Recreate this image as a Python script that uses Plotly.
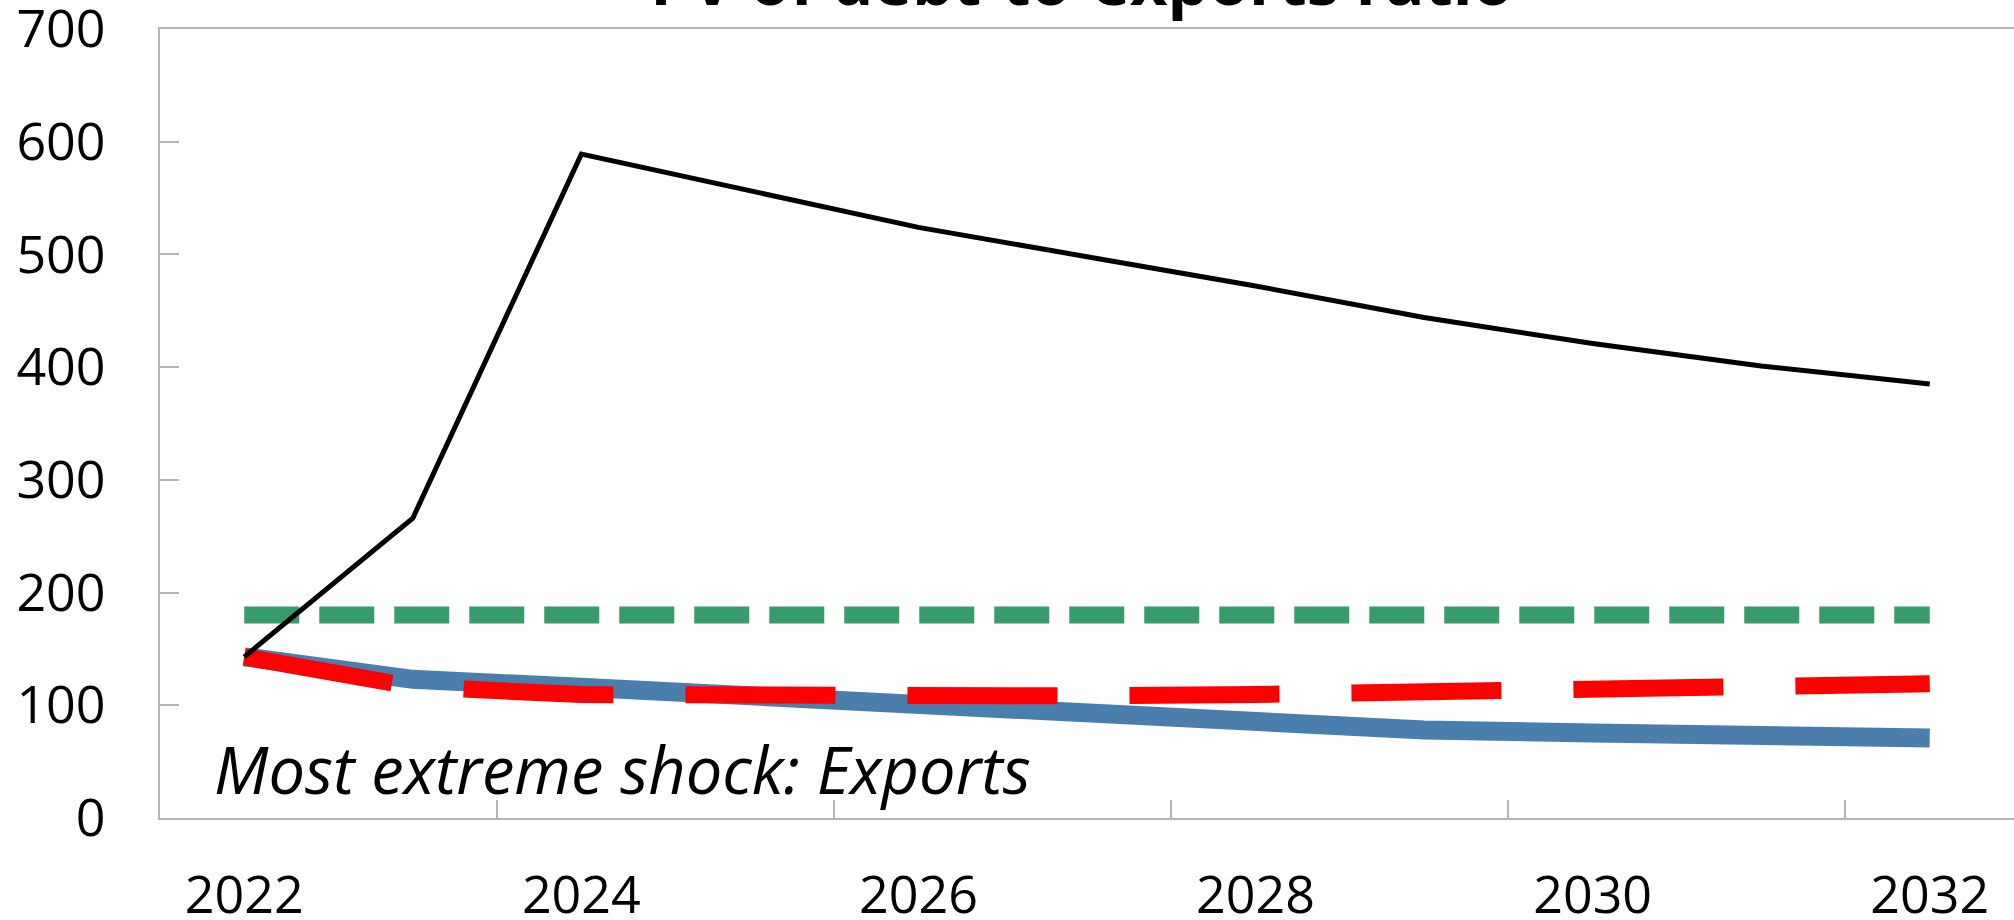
import plotly.graph_objects as go

# ---- data ----
years = [2022, 2023, 2024, 2025, 2026, 2027, 2028, 2029, 2030, 2031, 2032]
baseline = [143, 123, 116, 108, 100, 93.5, 86, 78, 75.5, 73, 71]
historical_scenario = [143, 116.5, 109.5, 108, 107, 108.3, 109.6, 111, 113.1, 116.7, 119.1]
most_extreme_shock = [143, 266, 589, 556, 524, 498, 472, 444, 421, 401, 385]
threshold = [180, 180, 180, 180, 180, 180, 180, 180, 180, 180, 180]

x_tick_years = [2022, 2024, 2026, 2028, 2030, 2032]
x_tick_labels = ["2022", "2024", "2026", "2028", "2030", "2032"]
x_boundaries = [2023.5, 2025.5, 2027.5, 2029.5, 2031.5]
y_ticks = [0, 100, 200, 300, 400, 500, 600, 700]

title_text = "PV of debt-to-exports ratio"
note_text = "Most extreme shock: Exports"

AXIS = "#b4b4b8"
FONT = "Open Sans"

fig = go.Figure()
fig.add_trace(go.Scatter(x=years, y=threshold, mode="lines", name="Threshold",
                         line=dict(color="#379c6b", width=17, dash="55px,20px")))
fig.add_trace(go.Scatter(x=years, y=baseline, mode="lines", name="Baseline",
                         line=dict(color="#4a7fad", width=19)))
fig.add_trace(go.Scatter(x=years, y=historical_scenario, mode="lines", name="Historical scenario",
                         line=dict(color="#ff0000", width=17, dash="150px,72px")))
fig.add_trace(go.Scatter(x=years, y=most_extreme_shock, mode="lines", name="Most extreme shock",
                         line=dict(color="#000000", width=5)))

fig.update_layout(
    width=2014, height=920,
    margin=dict(l=160, r=0, t=29, b=102, pad=0, autoexpand=False),
    paper_bgcolor="white", plot_bgcolor="white",
    showlegend=False,
    font=dict(family=FONT, size=52, color="black"),
    title=dict(text="<b>" + title_text + "</b>", x=0.537, xanchor="center",
               y=1 - 5 / 920, yref="container", yanchor="bottom", automargin=False,
               font=dict(family=FONT, size=65, color="black")),
    xaxis=dict(range=[2021.5, 2032.5], tickmode="array", tickvals=x_tick_years,
               ticktext=x_tick_labels, ticks="", showline=True, linecolor=AXIS,
               linewidth=2, mirror=True, showgrid=False, zeroline=False,
               automargin=False, ticklabeloverflow="allow",
               ticklabelstandoff=31,
               minor=dict(tickmode="array", tickvals=x_boundaries, ticks="inside",
                          ticklen=18, tickwidth=2, tickcolor=AXIS, showgrid=False)),
    yaxis=dict(range=[0, 700], tickmode="array", tickvals=y_ticks, ticks="inside",
               ticklen=19, tickwidth=2, tickcolor=AXIS, showline=True, linecolor=AXIS,
               linewidth=2, showgrid=False, zeroline=False, ticklabelstandoff=42,
               automargin=False, ticklabeloverflow="allow"),
    annotations=[dict(text="<i>" + note_text + "</i>", xref="paper", yref="paper",
                      x=0.028, y=0.004, xanchor="left", yanchor="bottom", showarrow=False,
                      font=dict(family=FONT, size=65, color="black"))],
)

# remove the page's default body margin so the figure fills the window exactly
fig.write_html("out.html", config={"displayModeBar": False},
               post_script="document.body.style.margin='0';document.body.style.overflow='hidden';")
